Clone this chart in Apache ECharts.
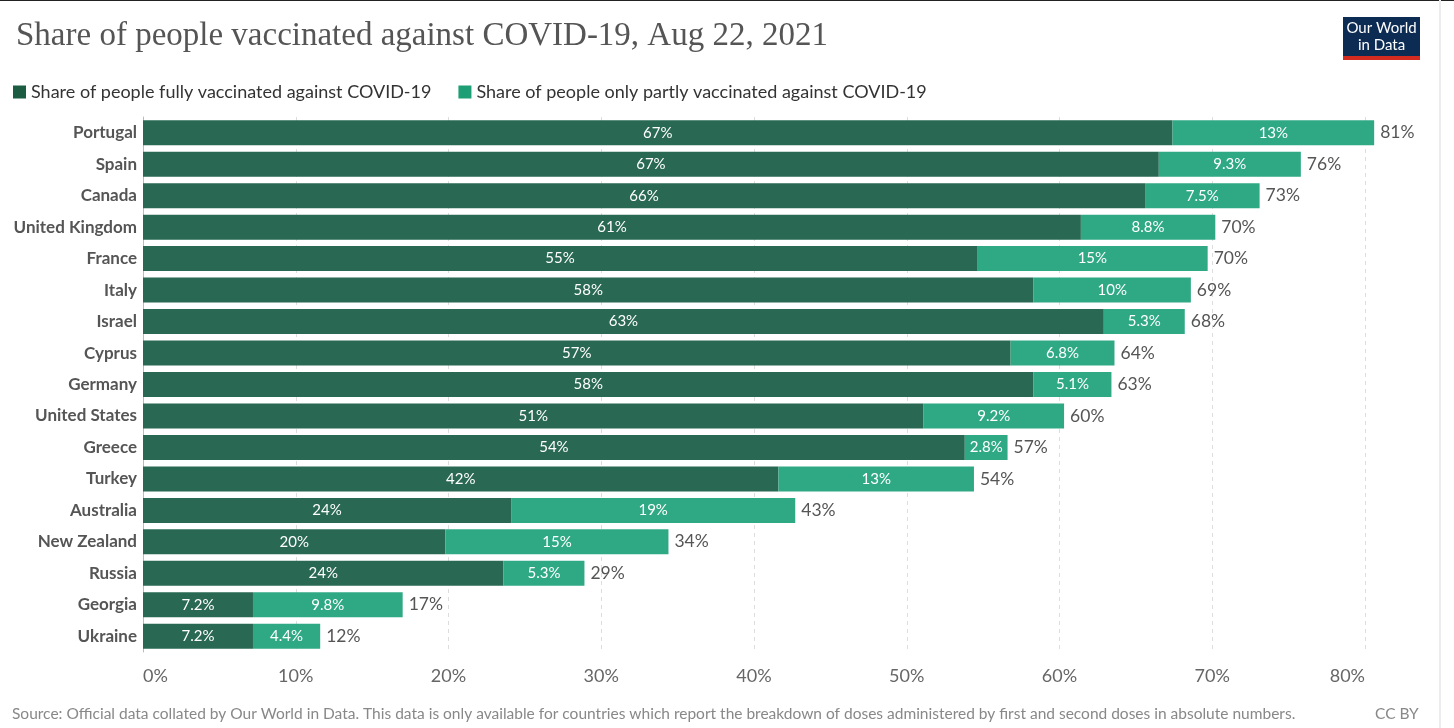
<!DOCTYPE html>
<html><head><meta charset="utf-8">
<script src="https://cdn.jsdelivr.net/npm/echarts@6/dist/echarts.min.js"></script>
<style>html,body{margin:0;padding:0;background:#fff}#c{width:1454px;height:728px}</style>
</head><body><div id="c"></div>
<script>
const countries = ["Portugal","Spain","Canada","United Kingdom","France","Italy","Israel","Cyprus","Germany","United States","Greece","Turkey","Australia","New Zealand","Russia","Georgia","Ukraine"];
const fully =  [67.4, 66.5, 65.6, 61.4, 54.6, 58.3, 62.9, 56.8, 58.3, 51.1, 53.8, 41.6, 24.1, 19.8, 23.6, 7.2, 7.2];
const partly = [13.2, 9.3, 7.5, 8.8, 15.1, 10.3, 5.3, 6.8, 5.1, 9.2, 2.8, 12.8, 18.6, 14.6, 5.3, 9.8, 4.4];
const xTicks = [0, 10, 20, 30, 40, 50, 60, 70, 80];
const seriesNames = ["Share of people fully vaccinated against COVID-19", "Share of people only partly vaccinated against COVID-19"];

const fmt = v => (v >= 10 ? Math.round(v) : v.toFixed(1)) + '%';
const totals = fully.map((v, i) => +(v + partly[i]).toFixed(2));
const font = 'Lato, "Open Sans", sans-serif';

const chart = echarts.init(document.getElementById('c'), null, {renderer: 'canvas'});
chart.setOption({
  animation: false,
  textStyle: {fontFamily: font},
  title: {
    text: 'Share of people vaccinated against COVID-19, Aug 22, 2021',
    left: 11, top: 15,
    textStyle: {fontFamily: '"Liberation Serif", serif', fontWeight: 'normal', fontSize: 33, color: '#555'}
  },
  legend: {
    left: 8, top: 78, itemWidth: 13, itemHeight: 13, itemGap: 27,
    icon: 'rect',
    textStyle: {fontFamily: font, fontSize: 18, color: '#333'},
    data: [
      {name: seriesNames[0], itemStyle: {color: '#1b5c43'}},
      {name: seriesNames[1], itemStyle: {color: '#1d9e75'}}
    ]
  },
  grid: {left: 143, right: 89, top: 117, height: 535, containLabel: false},
  xAxis: {
    type: 'value', min: 0, max: 80, interval: 10,
    axisLine: {show: false}, axisTick: {show: false},
    splitLine: {show: true, lineStyle: {color: '#ddd', type: [4, 4], width: 1}},
    axisLabel: {formatter: v => xTicks.includes(v) ? v + '%' : '', fontSize: 18, color: '#666', margin: 15, fontFamily: font,
      alignMinLabel: 'left', alignMaxLabel: 'right'}
  },
  yAxis: {
    type: 'category', data: countries, inverse: true,
    axisLine: {show: true, lineStyle: {color: '#bbb', width: 1}},
    axisTick: {show: false},
    axisLabel: {fontSize: 17, fontWeight: 'bold', color: '#555', margin: 6, fontFamily: font}
  },
  series: [
    {
      name: seriesNames[0], type: 'bar', stack: 'v', data: fully, barWidth: 25, clip: false,
      itemStyle: {color: '#296852'},
      label: {show: true, position: 'inside', color: '#fff', fontSize: 15, fontFamily: font, formatter: p => fmt(p.value)}
    },
    {
      name: seriesNames[1], type: 'bar', stack: 'v', barWidth: 25, clip: false,
      data: partly,
      itemStyle: {color: '#2fa984'},
      label: {show: true, position: 'inside', color: '#fff', fontSize: 15, fontFamily: font, formatter: p => fmt(p.value)}
    },
    {
      name: 'total', type: 'bar', stack: 'v', barWidth: 25, clip: false,
      data: totals.map(() => 0), silent: true,
      itemStyle: {color: 'transparent'},
      label: {show: true, position: 'right', distance: 6, color: '#555', fontSize: 17.5, fontFamily: font, formatter: p => fmt(totals[p.dataIndex])}
    }
  ],
  graphic: [
    {type: 'rect', left: 0, top: 0, shape: {width: 1454, height: 1}, style: {fill: '#222'}},
    {type: 'rect', left: 1439, top: 0, shape: {width: 2, height: 728}, style: {fill: '#ececec'}},
    {type: 'rect', left: 1343, top: 17, shape: {width: 77, height: 39}, style: {fill: '#0d2c54'}},
    {type: 'rect', left: 1343, top: 56, shape: {width: 77, height: 4}, style: {fill: '#d42b21'}},
    {type: 'text', x: 1381.5, y: 20, style: {text: 'Our World\nin Data', fill: '#fff', fontSize: 15, lineHeight: 17, fontFamily: font, align: 'center', textAlign: 'center'}},
    {type: 'text', left: 12, top: 706, style: {text: 'Source: Official data collated by Our World in Data. This data is only available for countries which report the breakdown of doses administered by first and second doses in absolute numbers.', fill: '#888', fontSize: 15.5, fontFamily: font}},
    {type: 'text', left: 1375, top: 706, style: {text: 'CC BY', fill: '#888', fontSize: 15.5, fontFamily: font}}
  ]
});
</script></body></html>
